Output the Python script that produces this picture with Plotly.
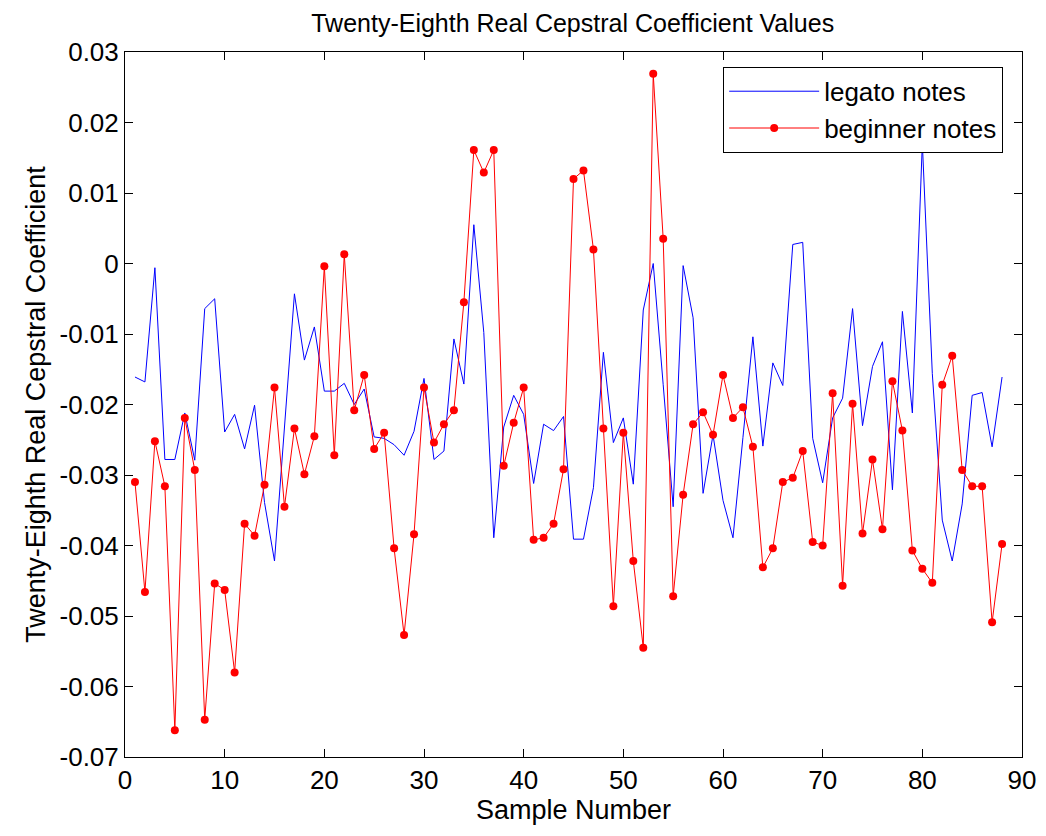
import plotly.graph_objects as go

# Sample numbers 1..88
sample = list(range(1, 89))

legato = [
    -0.0161, -0.0168, -0.0006, -0.0278, -0.0278, -0.0212, -0.0279, -0.0064, -0.0050, -0.0239,
    -0.0214, -0.0263, -0.0201, -0.0339, -0.0422, -0.0234, -0.0043, -0.0137, -0.0090, -0.0181,
    -0.0181, -0.0170, -0.0200, -0.0178, -0.0246, -0.0248, -0.0257, -0.0272, -0.0238, -0.0163,
    -0.0278, -0.0266, -0.0107, -0.0171, 0.0055, -0.0098, -0.0389, -0.0232, -0.0187, -0.0214,
    -0.0312, -0.0228, -0.0237, -0.0217, -0.0391, -0.0391, -0.0318, -0.0126, -0.0254, -0.0219,
    -0.0313, -0.0066, 0.0000, -0.0172, -0.0345, -0.0003, -0.0077, -0.0326, -0.0243, -0.0336,
    -0.0389, -0.0247, -0.0104, -0.0259, -0.0141, -0.0173, 0.0027, 0.0030, -0.0248, -0.0311,
    -0.0219, -0.0191, -0.0064, -0.0230, -0.0146, -0.0111, -0.0321, -0.0068, -0.0212, 0.0171,
    -0.0156, -0.0364, -0.0422, -0.0341, -0.0187, -0.0183, -0.0260, -0.0161,
]

beginner = [
    -0.0310, -0.0466, -0.0252, -0.0316, -0.0662, -0.0219, -0.0293, -0.0647, -0.0454, -0.0463,
    -0.0580, -0.0369, -0.0386, -0.0314, -0.0176, -0.0345, -0.0234, -0.0299, -0.0245, -0.0004,
    -0.0272, 0.0013, -0.0208, -0.0158, -0.0263, -0.0240, -0.0404, -0.0527, -0.0384, -0.0176,
    -0.0254, -0.0228, -0.0208, -0.0055, 0.0161, 0.0129, 0.0161, -0.0287, -0.0226, -0.0176,
    -0.0392, -0.0389, -0.0369, -0.0292, 0.0120, 0.0132, 0.0020, -0.0234, -0.0486, -0.0240,
    -0.0422, -0.0545, 0.0269, 0.0035, -0.0472, -0.0328, -0.0228, -0.0211, -0.0243, -0.0158,
    -0.0219, -0.0204, -0.0260, -0.0431, -0.0404, -0.0310, -0.0304, -0.0266, -0.0395, -0.0400,
    -0.0184, -0.0457, -0.0199, -0.0383, -0.0278, -0.0377, -0.0167, -0.0237, -0.0407, -0.0433,
    -0.0453, -0.0172, -0.0131, -0.0293, -0.0316, -0.0316, -0.0509, -0.0398,
]

x_ticks = [0, 10, 20, 30, 40, 50, 60, 70, 80, 90]
y_ticks = [0.03, 0.02, 0.01, 0, -0.01, -0.02, -0.03, -0.04, -0.05, -0.06, -0.07]
y_labels = ['0.03', '0.02', '0.01', '0', '-0.01', '-0.02', '-0.03',
            '-0.04', '-0.05', '-0.06', '-0.07']

font = 'Liberation Sans, Arial, sans-serif'

fig = go.Figure()
fig.add_trace(go.Scatter(x=sample, y=legato, mode='lines', name='legato notes',
                         line=dict(color='#0000ff', width=1)))
fig.add_trace(go.Scatter(x=sample, y=beginner, mode='lines+markers', name='beginner notes',
                         line=dict(color='#ff0000', width=1),
                         marker=dict(color='#ff0000', size=8)))

axis_style = dict(showline=True, linecolor='black', linewidth=1, mirror='ticks',
                  ticks='inside', ticklen=8, tickcolor='black', showgrid=False,
                  zeroline=False, automargin=False,
                  tickfont=dict(size=26, color='black', family=font))

fig.update_xaxes(range=[0, 90], tickvals=x_ticks,
                 title=dict(text='Sample Number', font=dict(size=27, color='black', family=font),
                            standoff=2),
                 **axis_style)
fig.update_yaxes(range=[-0.07, 0.03], tickvals=y_ticks, ticktext=y_labels,
                 title=dict(text='Twenty-Eighth Real Cepstral Coefficient',
                            font=dict(size=27, color='black', family=font), standoff=6),
                 **axis_style)

# page body has an 8px margin, so the figure is drawn a bit smaller
fig.update_layout(
    width=1038, height=828,
    margin=dict(l=117, r=24, t=44, b=79),
    paper_bgcolor='white', plot_bgcolor='white',
    title=dict(text='Twenty-Eighth Real Cepstral Coefficient Values',
               font=dict(size=25, color='black', family=font),
               x=0.544, xanchor='center', y=0.982, yanchor='middle'),
    legend=dict(x=0.979, y=0.979, xanchor='right', yanchor='top',
                bordercolor='black', borderwidth=1, bgcolor='white',
                itemwidth=90,
                font=dict(size=26, color='black', family=font)),
    showlegend=True,
)

fig.write_html('out.html')
